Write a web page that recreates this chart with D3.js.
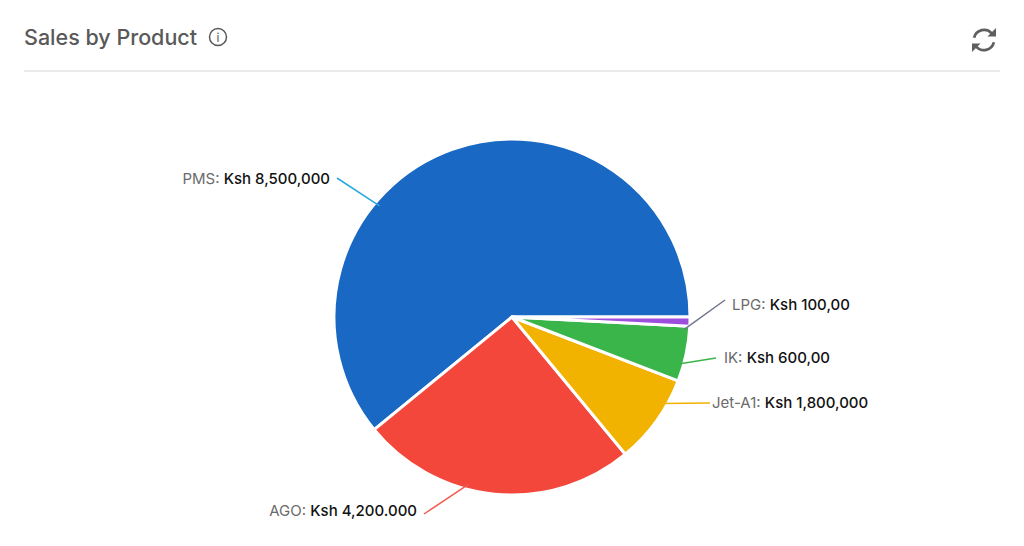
<!DOCTYPE html>
<html>
<head>
<meta charset="utf-8">
<script src="https://cdn.jsdelivr.net/npm/d3@7"></script>
<style>
	html, body { margin: 0; padding: 0; background: #fff; }
	text { font-family: "Inter", sans-serif; }
</style>
</head>
<body>
<div id="chart-area"></div>
<script>
// Slice sizes are read from the drawn angles, the printed labels don't add up to them
let products = ["PMS", "AGO", "Jet-A1", "IK", "LPG"];
let sliceValues = [8500000, 3500000, 1140000, 700000, 115000];
let amountLabels = ["Ksh 8,500,000", "Ksh 4,200.000", "Ksh 1,800,000", "Ksh 600,00", "Ksh 100,00"];

let sliceColors = ["#1868c4", "#f4473c", "#f2b200", "#3ab54a", "#9c4fdc"];
let leaderColors = ["#2aa8e0", "#f4574c", "#f2b200", "#3ab54a", "#70768f"];

// where each leader line touches the pie (degrees clockwise from north) and where it ends
let leaderAngles = [310, 194.6, 120, 105.8, 94];
let leaderEndX = [337, 424, 710, 716, 725];
let leaderEndY = [178, 514, 403, 358, 300];
let labelX = [330, 417, 712, 724, 732];
let labelY = [179, 511, 403, 358, 304.5];
let labelAnchor = ["end", "end", "start", "start", "start"];

let width = 1024, height = 546;
let cx = 512, cy = 317, radius = 178;

let svg = d3.select("#chart-area").append("svg")
	.attr("width", width)
	.attr("height", height)
	.style("display", "block");

// header
svg.append("text")
	.attr("x", 24)
	.attr("y", 45)
	.attr("font-size", 21.5)
	.attr("font-weight", 500)
	.attr("fill", "#595959")
	.text("Sales by Product");

svg.append("line")
	.attr("x1", 24).attr("x2", 1000)
	.attr("y1", 71).attr("y2", 71)
	.attr("stroke", "#e3e3e3")
	.attr("stroke-width", 1.5);

let info = svg.append("g").attr("transform", "translate(218,37)");
info.append("circle")
	.attr("r", 8.5)
	.attr("fill", "none")
	.attr("stroke", "#595959")
	.attr("stroke-width", 1.5);
info.append("text")
	.attr("text-anchor", "middle")
	.attr("y", 4.5)
	.attr("font-size", 12)
	.attr("fill", "#595959")
	.text("i");

// refresh icon
let refresh = svg.append("g").attr("transform", "translate(984,40)");
let refreshArc = d3.arc().innerRadius(8.8).outerRadius(11.5);
refresh.append("path")
	.attr("d", refreshArc({startAngle: -1.35, endAngle: 0.9}))
	.attr("fill", "#5f5f5f");
refresh.append("path")
	.attr("d", refreshArc({startAngle: 1.8, endAngle: 4.05}))
	.attr("fill", "#5f5f5f");
refresh.append("path")
	.attr("d", "M12,-12 V-3.5 H3.5 Z")
	.attr("fill", "#5f5f5f");
refresh.append("path")
	.attr("d", "M-12,12 V3.5 H-3.5 Z")
	.attr("fill", "#5f5f5f");

// pie, runs counter clockwise starting at east
let pie = d3.pie()
	.sort(null)
	.startAngle(Math.PI / 2)
	.endAngle(Math.PI / 2 - 2 * Math.PI)
	.value(function(d) { return d; });

let arc = d3.arc().innerRadius(0).outerRadius(radius);

let chart = svg.append("g").attr("transform", "translate(" + cx + "," + cy + ")");

chart.selectAll("path.slice")
	.data(pie(sliceValues))
	.enter().append("path")
	.attr("class", "slice")
	.attr("d", arc)
	.attr("fill", function(d, i) { return sliceColors[i]; })
	.attr("stroke", "#fff")
	.attr("stroke-width", 3)
	.attr("stroke-linejoin", "round");

// leader lines start a little inside the edge
function leaderStart(i) {
	return d3.pointRadial(leaderAngles[i] * Math.PI / 180, radius - 5);
}

svg.selectAll("line.leader")
	.data(products)
	.enter().append("line")
	.attr("class", "leader")
	.attr("x1", function(d, i) { return cx + leaderStart(i)[0]; })
	.attr("y1", function(d, i) { return cy + leaderStart(i)[1]; })
	.attr("x2", function(d, i) { return leaderEndX[i]; })
	.attr("y2", function(d, i) { return leaderEndY[i]; })
	.attr("stroke", function(d, i) { return leaderColors[i]; })
	.attr("stroke-width", 1.5);

// labels
let labels = svg.selectAll("text.label")
	.data(products)
	.enter().append("text")
	.attr("class", "label")
	.attr("x", function(d, i) { return labelX[i]; })
	.attr("y", function(d, i) { return labelY[i]; })
	.attr("dy", "0.35em")
	.attr("text-anchor", function(d, i) { return labelAnchor[i]; })
	.attr("font-size", 15);

labels.append("tspan")
	.attr("fill", "#6b6b6b")
	.text(function(d) { return d + ": "; });

labels.append("tspan")
	.attr("fill", "#111")
	.attr("font-weight", 500)
	.text(function(d, i) { return amountLabels[i]; });
</script>
</body>
</html>
